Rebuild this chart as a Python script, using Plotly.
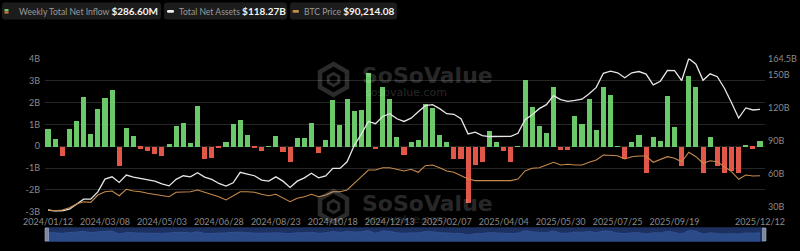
import plotly.graph_objects as go
import pandas as pd

# ---------------- data ----------------
start_date = "2024-01-12"
n_weeks = 101
dates = pd.date_range(start_date, periods=n_weeks, freq="7D")

# Weekly total net inflow (USD billions)
inflow = [
    0.81, 0.35, -0.41, 0.81, 1.19, 2.29, 0.58, 1.73, 2.24, 2.58,
    -0.87, 0.85, 0.49, -0.08, -0.21, -0.34, -0.44, 0.12, 0.96, 1.07,
    0.17, 1.85, -0.56, -0.53, -0.02, 0.24, 1.04, 1.24, 0.53, -0.06,
    -0.18, 0.02, 0.50, -0.26, -0.69, 0.39, 0.38, 1.08, -0.30, 0.30,
    2.14, 1.00, 2.21, 1.62, 1.68, 3.37, -0.11, 2.72, 2.17, 0.46,
    -0.38, 0.23, 0.31, 1.98, 1.77, 0.56, 0.20, -0.56, -0.56, -2.60,
    -0.84, -0.69, 0.73, 0.20, -0.18, -0.72, 0.01, 3.05, 1.81, 0.93,
    0.61, 2.75, -0.13, -0.13, 1.40, 1.04, 2.21, 0.78, 2.72, 2.38,
    0.03, -0.58, 0.24, 0.55, -1.18, 0.43, 0.25, 2.34, 0.89, -0.88,
    3.23, 2.72, -1.21, 0.43, -0.87, -1.21, -1.10, -1.21, 0.04, -0.08,
    0.2866,
]

# Total net assets (USD billions)
tna = [
    27.0, 26.0, 26.3, 27.7, 32.2, 36.8, 36.8, 43.5, 55.0, 57.1,
    52.0, 58.7, 56.9, 55.7, 55.0, 53.2, 50.8, 48.9, 54.8, 58.1,
    57.1, 60.8, 56.9, 54.8, 51.1, 48.7, 51.7, 61.2, 59.6, 58.1,
    54.1, 53.2, 57.1, 53.2, 47.5, 53.2, 56.2, 60.3, 56.2, 58.0,
    64.8, 64.8, 70.8, 85.5, 95.9, 107.4, 105.3, 111.9, 114.4, 109.8,
    107.4, 110.4, 116.2, 121.7, 122.6, 119.0, 114.4, 113.9, 109.8, 96.1,
    97.7, 94.6, 93.7, 93.7, 93.7, 93.9, 96.6, 108.9, 113.5, 119.0,
    122.6, 130.8, 127.2, 125.6, 126.5, 127.6, 132.6, 138.3, 151.1, 153.0,
    151.5, 147.0, 151.5, 152.7, 150.4, 140.6, 143.9, 153.8, 153.6, 144.5,
    164.5, 159.4, 144.7, 150.6, 148.0, 137.5, 124.4, 110.5, 119.6, 117.8,
    118.27,
]

# BTC price (USD thousands)
btc = [
    46.0, 45.1, 46.0, 49.0, 53.7, 56.7, 55.9, 65.3, 69.6, 70.5,
    64.4, 72.7, 70.5, 69.6, 67.5, 66.2, 64.4, 63.1, 68.8, 69.6,
    69.6, 71.8, 68.8, 66.2, 63.1, 58.9, 64.0, 69.6, 69.6, 68.8,
    66.2, 64.4, 66.2, 61.8, 56.7, 61.1, 63.1, 66.2, 63.1, 65.3,
    69.6, 69.6, 71.8, 80.4, 88.9, 97.5, 97.5, 100.5, 100.5, 98.8,
    96.3, 98.5, 94.6, 103.1, 104.0, 100.5, 96.3, 94.6, 90.2, 85.9,
    83.8, 83.8, 83.8, 83.8, 83.8, 83.8, 85.9, 96.3, 99.7, 100.5,
    104.0, 107.5, 104.0, 104.9, 104.0, 104.0, 107.5, 110.4, 116.9, 116.0,
    116.0, 111.7, 114.7, 115.6, 115.6, 107.5, 111.3, 114.7, 112.6, 108.2,
    120.4, 114.7, 106.2, 109.5, 108.2, 101.8, 95.4, 85.6, 91.1, 89.8,
    90.214,
]

x_tick_dates = [
    "2024-01-12", "2024-03-08", "2024-05-03", "2024-06-28", "2024-08-23",
    "2024-10-18", "2024-12-13", "2025-02-07", "2025-04-04", "2025-05-30",
    "2025-07-25", "2025-09-19", "2025-12-12",
]
left_ticks = [-3, -2, -1, 0, 1, 2, 3, 4]
left_labels = ["-3B", "-2B", "-1B", "0", "1B", "2B", "3B", "4B"]
right_ticks = [30, 60, 90, 120, 150, 164.5]
right_labels = ["30B", "60B", "90B", "120B", "150B", "164.5B"]

legend_items = [
    ("Weekly Total Net Inflow", "$286.60M"),
    ("Total Net Assets", "$118.27B"),
    ("BTC Price", "$90,214.08"),
]

# ---------------- style ----------------
W, H = 800, 251
GREEN = "#6cc96a"
RED = "#e3574a"
WHITE_LINE = "#e6e6e6"
ORANGE_LINE = "#c68a4c"
GRID = "#262626"
TICK = "#8a8a8a"
FONT = "Lato"
WM_FONT = "DejaVu Sans"
WM = "rgba(255,255,255,0.17)"


def X(px):
    return px / W


def Y(py):
    return 1 - py / H


x_range = [pd.Timestamp(start_date) - pd.Timedelta(days=2.95),
           dates[-1] + pd.Timedelta(days=4.9)]

fig = go.Figure()

fig.add_trace(go.Bar(
    x=dates, y=inflow,
    marker=dict(color=[GREEN if v >= 0 else RED for v in inflow], line=dict(width=0)),
    width=5 * 86400000, xaxis="x", yaxis="y", hoverinfo="skip",
))
fig.add_trace(go.Scatter(
    x=dates, y=btc, mode="lines", xaxis="x", yaxis="y3",
    line=dict(color=ORANGE_LINE, width=1.1), hoverinfo="skip",
))
fig.add_trace(go.Scatter(
    x=dates, y=tna, mode="lines", xaxis="x", yaxis="y2",
    line=dict(color=WHITE_LINE, width=1.3), hoverinfo="skip",
))

# range-slider style navigator (inflow wave)
rs_lo, rs_hi = -12, 8
fig.add_trace(go.Scatter(
    x=dates, y=[v - rs_lo for v in inflow], mode="lines", xaxis="x2", yaxis="y4",
    fill="tozeroy", fillcolor="#2b4a88", line=dict(color="#35569a", width=0.8, shape="spline"),
    hoverinfo="skip",
))

shapes = []
# navigator background band
shapes.append(dict(type="rect", xref="paper", yref="paper",
                   x0=X(45), x1=X(764), y0=Y(241.7), y1=Y(227.3),
                   fillcolor="#1d3161", line=dict(width=0), layer="below"))
# navigator handles
for hx in (45, 762.5):
    shapes.append(dict(type="rect", xref="paper", yref="paper",
                       x0=X(hx), x1=X(hx + 3.5), y0=Y(241), y1=Y(228),
                       fillcolor="#7c879c", line=dict(color="#a9b2c2", width=0.6)))


def rrect(x0, y0, x1, y1, r=3):
    return (f"M {X(x0 + r)} {Y(y0)} L {X(x1 - r)} {Y(y0)} Q {X(x1)} {Y(y0)} {X(x1)} {Y(y0 + r)} "
            f"L {X(x1)} {Y(y1 - r)} Q {X(x1)} {Y(y1)} {X(x1 - r)} {Y(y1)} "
            f"L {X(x0 + r)} {Y(y1)} Q {X(x0)} {Y(y1)} {X(x0)} {Y(y1 - r)} "
            f"L {X(x0)} {Y(y0 + r)} Q {X(x0)} {Y(y0)} {X(x0 + r)} {Y(y0)} Z")


# legend boxes
boxes = [(2, 161), (164, 287), (290, 397)]
for (bx0, bx1) in boxes:
    shapes.append(dict(type="path", xref="paper", yref="paper", path=rrect(bx0, 2.5, bx1, 19.5),
                       fillcolor="#1c1c1c", line=dict(width=0)))
# legend icons
shapes.append(dict(type="rect", xref="paper", yref="paper", x0=X(4.5), x1=X(8.5), y0=Y(11.3), y1=Y(9),
                   fillcolor=GREEN, line=dict(width=0)))
shapes.append(dict(type="rect", xref="paper", yref="paper", x0=X(4.5), x1=X(8.5), y0=Y(13.6), y1=Y(11.3),
                   fillcolor="#d0703c", line=dict(width=0)))
shapes.append(dict(type="path", xref="paper", yref="paper", path=rrect(167, 10, 174, 12.8, 1.2),
                   fillcolor="#f0f0f0", line=dict(width=0)))
shapes.append(dict(type="path", xref="paper", yref="paper", path=rrect(292.5, 10, 299, 12.8, 1.2),
                   fillcolor=ORANGE_LINE, line=dict(width=0)))


# watermark icon (hexagon outline)
def hexagon(cx, cy, r):
    pts = [(cx, cy - r), (cx + r * 0.87, cy - r / 2), (cx + r * 0.87, cy + r / 2),
           (cx, cy + r), (cx - r * 0.87, cy + r / 2), (cx - r * 0.87, cy - r / 2)]
    return "M " + " L ".join(f"{X(a)} {Y(b)}" for a, b in pts) + " Z"


for cy in (79.5, 206.5):
    shapes.append(dict(type="path", xref="paper", yref="paper", path=hexagon(333.5, cy, 15.5),
                       fillcolor="rgba(0,0,0,0)", line=dict(color=WM, width=4.5)))
    shapes.append(dict(type="path", xref="paper", yref="paper", path=hexagon(333.5, cy, 6),
                       fillcolor="rgba(0,0,0,0)", line=dict(color=WM, width=3)))

annotations = []
label_x = [16.5, 177, 302]
for (lab, val), lx in zip(legend_items, label_x):
    annotations.append(dict(
        x=X(lx), y=Y(11.2), xref="paper", yref="paper",
        text=f"{lab} <span style='color:#f2f2f2;font-size:10px'><b>{val}</b></span>",
        xanchor="left", yanchor="middle", showarrow=False,
        font=dict(family=FONT, size=8.6, color="#9a9a9a")))

for ty in (76, 203):
    annotations.append(dict(x=X(360), y=Y(ty), xref="paper", yref="paper", text="<b>SoSoValue</b>",
                            xanchor="left", yanchor="middle", showarrow=False,
                            font=dict(family=WM_FONT, size=22, color=WM)))
    annotations.append(dict(x=X(363), y=Y(ty + 16.5), xref="paper", yref="paper", text="sosovalue.com",
                            xanchor="left", yanchor="middle", showarrow=False,
                            font=dict(family=WM_FONT, size=11, color=WM)))

fig.update_layout(
    width=W, height=H, autosize=False,
    margin=dict(l=0, r=0, t=0, b=0, pad=0),
    paper_bgcolor="#000000", plot_bgcolor="#000000",
    showlegend=False, hovermode=False,
    bargap=0,
    xaxis=dict(domain=[X(45), X(765)], type="date", range=x_range, anchor="y",
               tickvals=x_tick_dates,
               ticktext=[d.replace("-", "/") for d in x_tick_dates],
               tickfont=dict(family=FONT, size=9, color=TICK), ticklabelstandoff=3,
               showgrid=False, zeroline=False, showline=False, ticks="", automargin=False),
    yaxis=dict(domain=[Y(211.7), Y(58.5)], range=[-3, 4.023], tickvals=left_ticks,
               ticktext=left_labels, tickfont=dict(family=FONT, size=9, color=TICK),
               ticklabelstandoff=4,
               showgrid=True, gridcolor=GRID, gridwidth=1, zeroline=False,
               showline=False, ticks="", automargin=False),
    yaxis2=dict(overlaying="y", side="right", anchor="x", range=[25.46, 164.52],
                tickvals=right_ticks, ticktext=right_labels,
                tickfont=dict(family=FONT, size=9, color=TICK), ticklabelstandoff=2,
                showgrid=False, zeroline=False, showline=False, ticks="", automargin=False),
    yaxis3=dict(overlaying="y", range=[43.8, 241.2], visible=False),
    xaxis2=dict(domain=[X(45), X(765)], type="date", range=x_range, anchor="y4", visible=False),
    yaxis4=dict(domain=[Y(241.7), Y(227.3)], range=[0, rs_hi - rs_lo], visible=False),
    shapes=shapes,
    annotations=annotations,
)

fig.write_html("out.html")
